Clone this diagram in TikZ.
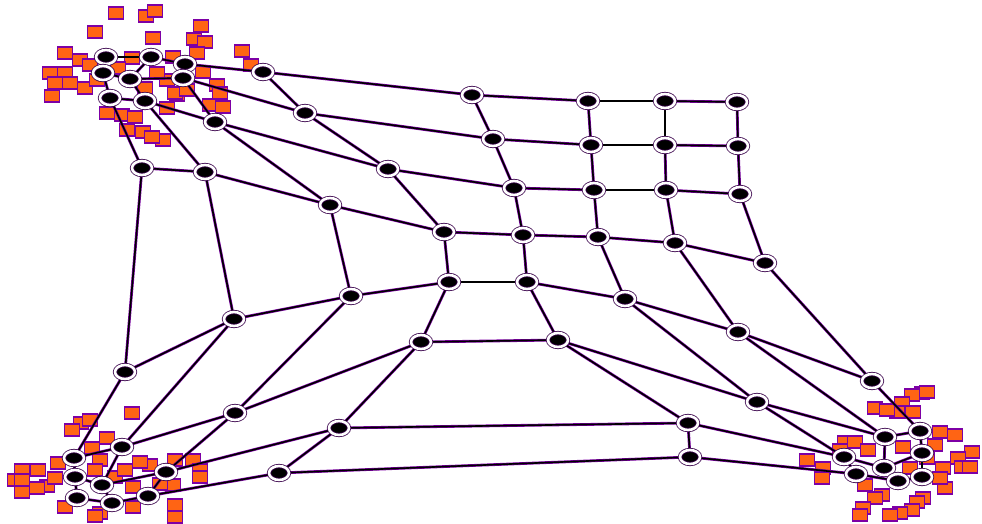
\documentclass[tikz,border=0pt]{standalone}
\usetikzlibrary{shapes.geometric,backgrounds}
\definecolor{somviolet}{RGB}{125,0,165}
\definecolor{dataorange}{RGB}{255,100,20}
\pgfdeclarelayer{data}
\pgfsetlayers{data,background,main}
\tikzset{
  neuron/.style={ellipse, fill=black, inner sep=0pt, minimum width=20pt, minimum height=14pt,
    draw=black!55!somviolet, line width=0.8pt, double=white, double distance=2.6pt},
  link/.style={black, line width=1.6pt, preaction={draw=somviolet, line width=2.8pt}},
  datum/.style={fill=dataorange, draw=somviolet, line width=1.6pt}
}
\begin{document}
\begin{tikzpicture}[x=1pt,y=-1pt]
        \useasboundingbox (0,0) rectangle (982,524);
        % Neuroni
        \foreach \c/\x/\y in {0/106/57,1/151/57,2/185/64,3/263/72,4/472/95,5/588/101,6/665/101,7/737/102}
            \node[neuron] (n0\c) at (\x,\y) {};
        \foreach \c/\x/\y in {0/103/73,1/130/79,2/183/78,3/305/113,4/493/139,5/591/145,6/665/145,7/738/146}
            \node[neuron] (n1\c) at (\x,\y) {};
        \foreach \c/\x/\y in {0/110/98,1/145/101,2/215/122,3/388/169,4/514/188,5/594/190,6/666/190,7/740/194}
            \node[neuron] (n2\c) at (\x,\y) {};
        \foreach \c/\x/\y in {0/142/168,1/205/172,2/330/205,3/444/232,4/523/235,5/598/237,6/675/243,7/765/263}
            \node[neuron] (n3\c) at (\x,\y) {};
        \foreach \c/\x/\y in {0/125/372,1/234/319,2/351/296,3/449/282,4/527/282,5/625/299,6/738/332,7/872/381}
            \node[neuron] (n4\c) at (\x,\y) {};
        \foreach \c/\x/\y in {0/74/458,1/122/447,2/235/413,3/421/342,4/558/340,5/757/402,6/885/437,7/920/431}
            \node[neuron] (n5\c) at (\x,\y) {};
        \foreach \c/\x/\y in {0/75/477,1/102/485,2/166/472,3/339/428,4/688/423,5/844/457,6/884/468,7/922/453}
            \node[neuron] (n6\c) at (\x,\y) {};
        \foreach \c/\x/\y in {0/77/498,1/112/503,2/148/496,3/279/473,4/690/457,5/856/474,6/898/481,7/922/477}
            \node[neuron] (n7\c) at (\x,\y) {};
        % Collegamenti
        \begin{pgfonlayer}{background}
            \foreach \r in {0,...,7}
                \foreach \c [count=\d] in {0,...,6}
                    \draw[link] (n\r\c) -- (n\r\d);
            \foreach \c in {0,...,7}
                \foreach \r [count=\s] in {0,...,6}
                    \draw[link] (n\r\c) -- (n\s\c);
        \end{pgfonlayer}
        % Dati
        \begin{pgfonlayer}{data}
            \foreach \x/\y in {116/13,146/16,155/11,95/32,153/38,201/26,194/39,205/42,197/53,242/51,
                251/65,65/53,80/60,50/73,65/73,55/83,70/83,52/96,85/88,97/80,132/58,173/57,167/80,
                177/95,157/73,203/72,217/85,220/93,210/105,223/107,167/108,107/113,122/115,135/117,
                127/130,143/132,163/140,152/137,175/93,118/68,90/65,187/90,145/88}
                \draw[datum] (\x-7.5,\y-6) rectangle ++(15,12);
            \foreach \x/\y in {132/413,81/423,72/430,90/420,107/438,22/470,38/470,15/480,22/480,
                22/492,47/486,37/488,58/463,100/460,95/470,150/465,175/460,193/460,200/470,200/477,
                115/477,133/487,173/485,65/507,100/513,95/516,133/507,175/505,175/517,
                92/448,140/462,125/470,55/478,160/484}
                \draw[datum] (\x-7.5,\y-6) rectangle ++(15,12);
            \foreach \x/\y in {922/393,912/395,927/392,902/403,913/412,875/408,897/412,887/410,
                940/432,955/435,845/442,855/442,840/450,807/460,823/468,822/478,868/450,972/452,
                958/458,962/467,970/467,943/468,927/458,945/488,923/498,917/502,882/495,875/498,
                912/510,863/508,860/515,900/513,890/515,910/468,903/447,935/445,865/485,940/478}
                \draw[datum] (\x-7.5,\y-6) rectangle ++(15,12);
        \end{pgfonlayer}
\end{tikzpicture}
\end{document}
